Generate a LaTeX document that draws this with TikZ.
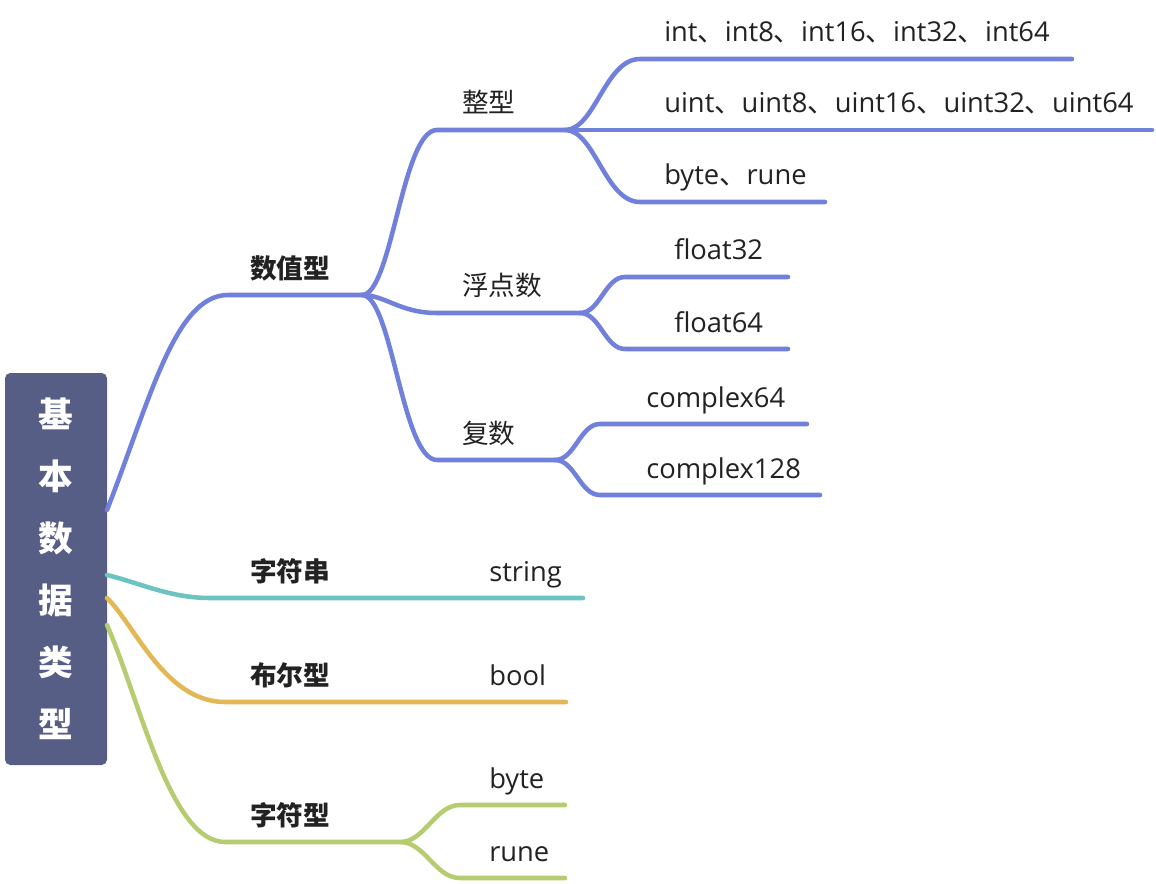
\documentclass[tikz,border=0pt]{standalone}
\usepackage{fontspec}
\setmainfont{Open Sans}
\newfontfamily\cjk{Noto Sans CJK SC}
\newcommand{\dunhao}{{\cjk 、}}
\usetikzlibrary{positioning}
\definecolor{rootbg}{RGB}{87,94,134}
\definecolor{numblue}{RGB}{113,128,218}
\definecolor{strteal}{RGB}{108,196,192}
\definecolor{boolorange}{RGB}{227,182,86}
\definecolor{chargreen}{RGB}{182,204,112}
\definecolor{txtgray}{RGB}{34,34,34}
\tikzstyle{rootbox}=[rectangle, rounded corners=4pt, fill=rootbg, text=white, minimum width=76.5pt, minimum height=294pt, align=center, inner sep=0pt, font=\cjk\fontsize{26}{46.5}\selectfont\bfseries]
\tikzstyle{topicname}=[anchor=base west, inner sep=0pt, text=txtgray, font=\cjk\fontsize{20}{24}\selectfont\bfseries]
\tikzstyle{subname}=[anchor=base west, inner sep=0pt, text=txtgray, font=\cjk\fontsize{20}{24}\selectfont]
\tikzstyle{leafname}=[anchor=base west, inner sep=0pt, text=txtgray, font=\fontsize{20.5}{24}\selectfont]
\tikzstyle{branchline}=[line width=3.4pt, line cap=round]

\begin{document}
\begin{tikzpicture}[x=0.75pt, y=-0.75pt]
        \useasboundingbox (0,0) rectangle (1156,884);
        %
        \node[rootbox] (root) at (56,569) {基\\本\\数\\据\\类\\型};
        \coordinate (r1) at (107,510);
        \coordinate (r2) at (107,575);
        \coordinate (r3) at (107,598);
        \coordinate (r4) at (107,625);
        % numeric types
        \coordinate (nv0) at (228,295);
        \coordinate (nvj) at (362,295);
        \coordinate (zx0) at (437,130);
        \coordinate (zxj) at (565,130);
        \coordinate (fd0) at (437,313);
        \coordinate (fdj) at (580,313);
        \coordinate (fs0) at (437,460);
        \coordinate (fsj) at (555,460);
        \coordinate (int0) at (640,59);
        \coordinate (int1) at (1072,59);
        \coordinate (uint1) at (1152,130);
        \coordinate (byte0) at (640,202);
        \coordinate (byte1) at (825,202);
        \coordinate (fa0) at (625,277);
        \coordinate (fa1) at (788,277);
        \coordinate (fb0) at (625,349);
        \coordinate (fb1) at (788,349);
        \coordinate (ca0) at (600,424);
        \coordinate (ca1) at (807,424);
        \coordinate (cb0) at (600,495);
        \coordinate (cb1) at (820,495);
        \begin{scope}[branchline, numblue]
          \draw (r1) .. controls (150,400) and (175,295) .. (nv0) -- (nvj);
          \draw (nvj) .. controls (392,295) and (402,130) .. (zx0) -- (zxj);
          \draw (nvj) .. controls (385,295) and (400,313) .. (fd0) -- (fdj);
          \draw (nvj) .. controls (392,295) and (402,460) .. (fs0) -- (fsj);
          \draw (zxj) .. controls (595,130) and (605,59) .. (int0) -- (int1);
          \draw (zxj) -- (uint1);
          \draw (zxj) .. controls (595,130) and (605,202) .. (byte0) -- (byte1);
          \draw (fdj) .. controls (600,313) and (605,277) .. (fa0) -- (fa1);
          \draw (fdj) .. controls (600,313) and (605,349) .. (fb0) -- (fb1);
          \draw (fsj) .. controls (575,460) and (580,424) .. (ca0) -- (ca1);
          \draw (fsj) .. controls (575,460) and (580,495) .. (cb0) -- (cb1);
        \end{scope}
        \node[topicname] (numeric) at (250,278) {数值型};
        \node[subname] (integer) at (462,113) {整型};
        \node[subname] (floating) at (462,296) {浮点数};
        \node[subname] (complexnum) at (462,443) {复数};
        \node[leafname] (intlist) at (664,42) {int\dunhao int8\dunhao int16\dunhao int32\dunhao int64};
        \node[leafname] (uintlist) at (664,113) {uint\dunhao uint8\dunhao uint16\dunhao uint32\dunhao uint64};
        \node[leafname] (byterune) at (664,185) {byte\dunhao rune};
        \node[leafname] (f32) at (674,260) {float32};
        \node[leafname] (f64) at (674,332) {float64};
        \node[leafname] (c64) at (646,407) {complex64};
        \node[leafname] (c128) at (646,478) {complex128};
        % string
        \coordinate (st0) at (210,598);
        \coordinate (st1) at (583,598);
        \draw[branchline, strteal] (r2) .. controls (140,583) and (170,598) .. (st0) -- (st1);
        \node[topicname] (strtype) at (250,581) {字符串};
        \node[leafname] (strleaf) at (489,581) {string};
        % bool
        \coordinate (bo0) at (225,702);
        \coordinate (bo1) at (566,702);
        \draw[branchline, boolorange] (r3) .. controls (135,625) and (165,702) .. (bo0) -- (bo1);
        \node[topicname] (booltype) at (250,685) {布尔型};
        \node[leafname] (boolleaf) at (489,685) {bool};
        % char
        \coordinate (ch0) at (225,842);
        \coordinate (chj) at (400,842);
        \coordinate (cy0) at (460,805);
        \coordinate (cy1) at (565,805);
        \coordinate (cz0) at (460,878);
        \coordinate (cz1) at (565,878);
        \begin{scope}[branchline, chargreen]
          \draw (r4) .. controls (140,700) and (170,842) .. (ch0) -- (chj);
          \draw (chj) .. controls (425,842) and (435,805) .. (cy0) -- (cy1);
          \draw (chj) .. controls (425,842) and (435,878) .. (cz0) -- (cz1);
        \end{scope}
        \node[topicname] (chartype) at (250,825) {字符型};
        \node[leafname] (byteleaf) at (489,788) {byte};
        \node[leafname] (runeleaf) at (489,861) {rune};
      %
      \end{tikzpicture}
\end{document}
